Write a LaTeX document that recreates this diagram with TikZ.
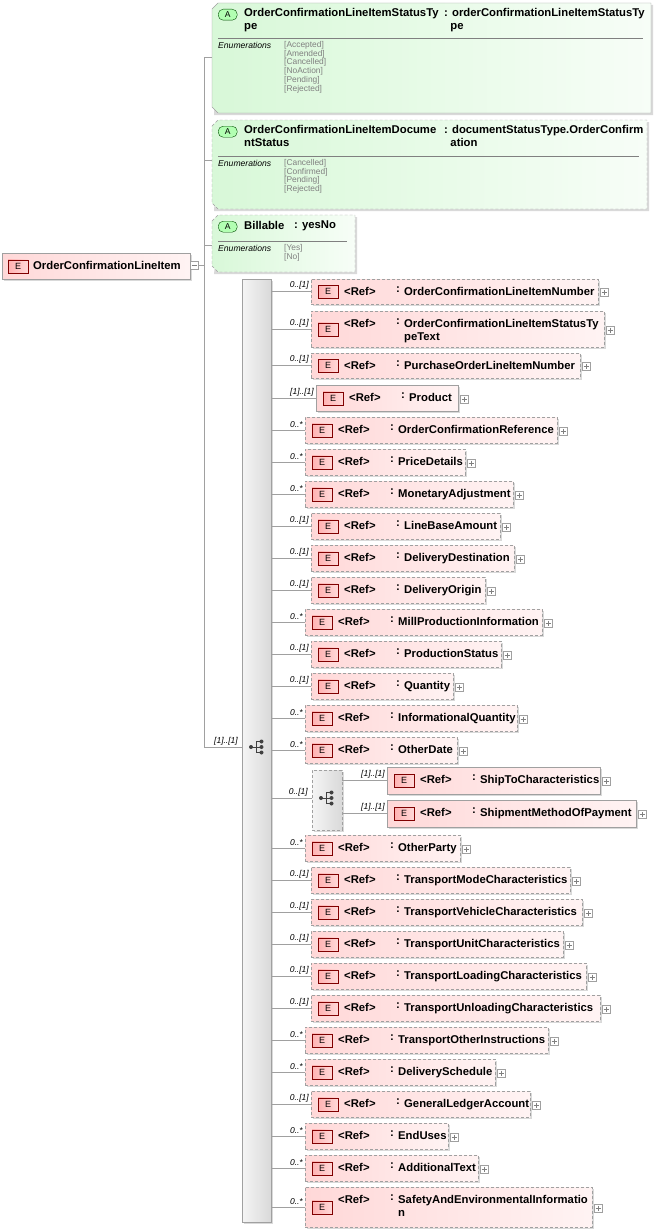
\documentclass[tikz,border=0pt]{standalone}
\usepackage{fontspec}
\setmainfont{Liberation Sans}
\usetikzlibrary{calc}
\definecolor{epink}{HTML}{FFD8D8}
\definecolor{agreen}{HTML}{D8F8D8}
\definecolor{lgray}{HTML}{A0A0A0}
\tikzset{
  ebox/.style={draw=lgray, left color=epink, right color=epink!30, shading angle=90, inner sep=0pt},
  dsh/.style={dash pattern=on 3pt off 2pt},
  sol/.style={},
  eicon/.style={draw=red!50!black, left color=red!30, right color=red!15, minimum width=20pt, minimum height=13pt, inner sep=0pt, font=\fontsize{9}{9}\selectfont, anchor=north west},
  bt/.style={font=\bfseries\fontsize{11.3}{13}\selectfont, inner sep=0pt, anchor=north west, align=left},
  card/.style={font=\itshape\fontsize{8.5}{8.5}\selectfont, inner sep=0pt, anchor=south east},
  conn/.style={draw=lgray, line width=0.6pt},
  plusb/.style={draw=lgray, fill=white, minimum size=8pt, inner sep=0pt},
  enumt/.style={font=\fontsize{8.4}{8.8}\selectfont, text=gray, inner sep=0pt, anchor=north west, align=left},
  enuml/.style={font=\itshape\fontsize{8.6}{8}\selectfont, inner sep=0pt, anchor=north west},
}
\newcommand\plusat[1]{\node[plusb] at (#1) {}; \draw[gray] ($(#1)+(-2.5,0)$) -- ($(#1)+(2.5,0)$) ($(#1)+(0,-2.5)$) -- ($(#1)+(0,2.5)$);}
% #1 id, #2 x1, #3 y1, #4 x2, #5 y2, #6 card, #7 name, #8 style, #9 connector start x
\newcommand\El[9]{%
  \fill[gray!30] ({#2+2},{#3+2}) rectangle ({#4+2},{#5+2});
  \node[ebox,#8, minimum width={#4-#2}, minimum height={#5-#3}, anchor=north west] (#1) at (#2,#3) {};
  \node[eicon] (#1i) at ({#2+7},{#3+(#5-#3)/2-6.5}) {E};
  \node[bt] (#1r) at ({#2+33},{#3+8}) {<Ref>};
  \node[bt] (#1c) at ({#2+85},{#3+8}) {:};
  \node[bt] (#1n) at ({#2+93},{#3+8}) {#7};
  \coordinate (#1p) at ({#4+6},{#3+(#5-#3)/2+1});
  \plusat{#1p}
  \coordinate (#1s) at ({#9},{#3+(#5-#3)/2});
  \draw[conn] (#1s) -- (#1.west |- #1s);
  \node[card] at ($(#1.west |- #1s)+(-2,-2)$) {#6};
}
\begin{document}
\begin{tikzpicture}[x=1pt,y=-1pt]
\useasboundingbox (0,0) rectangle (655,1231);
% root
\fill[gray!30] (4,255) rectangle (192,281);
\node[ebox, minimum width=188, minimum height=26, anchor=north west] (root) at (2,253) {};
\node[eicon] (rooti) at (8,259.5) {E};
\node[bt] (rootn) at (33,261) {OrderConfirmationLineItem};
\node[plusb] (rootm) at (194,265) {}; \draw[gray] (191.5,265) -- (196.5,265);
\coordinate (trunk) at (204,265);
\draw[conn] (rootm.east) -- (trunk);
\draw[conn] (204,57) -- (204,747);
% attributes
\newcommand\Abox[6]{% x1 y1 x2 y2 style name
  \fill[gray!30] ({#1+8},{#2+2}) -- ({#3+2},{#2+2}) -- ({#3+2},{#4+2}) -- ({#1+2},{#4+2}) -- cycle;
  \path[draw=lgray, left color=agreen, right color=agreen!20, shading angle=90, #5] (#1,{#2+6}) -- ({#1+6},#2) -- (#3,#2) -- (#3,#4) -- ({#1+6},#4) -- (#1,{#4-6}) -- cycle;
}
\Abox{212}{3}{651}{113}{}{}
\Abox{212}{120}{647}{209}{dsh}{}
\Abox{212}{215}{355}{272}{dsh}{}
\newcommand\Aicon[2]{\node[draw=green!30!black, fill=green!30, rounded corners=5pt, minimum width=19pt, minimum height=11pt, inner sep=0pt, font=\fontsize{8.5}{8.5}\selectfont, anchor=north west] (#1) at (#2) {A};}
\Aicon{a1i}{218,9}
\node[bt] (a1n) at (244,8) {OrderConfirmationLineItemStatusTy\\pe};
\node[bt] (a1t) at (444,8) {: orderConfirmationLineItemStatusTy\\\ \ pe};
\draw[gray] (218,38) -- (643,38);
\node[enuml] at (218,42) {Enumerations};
\node[enumt] at (284,41) {{[Accepted]}\\{[Amended]}\\{[Cancelled]}\\{[NoAction]}\\{[Pending]}\\{[Rejected]}};
\Aicon{a2i}{218,126}
\node[bt] (a2n) at (244,125) {OrderConfirmationLineItemDocume\\ntStatus};
\node[bt] (a2t) at (444,125) {: documentStatusType.OrderConfirm\\\ \ ation};
\draw[gray] (218,156) -- (639,156);
\node[enuml] at (218,160) {Enumerations};
\node[enumt] at (284,159) {{[Cancelled]}\\{[Confirmed]}\\{[Pending]}\\{[Rejected]}};
\Aicon{a3i}{218,221}
\node[bt] (a3n) at (244,221) {Billable};
\node[bt] (a3t) at (294,221) {: yesNo};
\draw[gray] (218,241) -- (347,241);
\node[enuml] at (218,245) {Enumerations};
\node[enumt] at (284,244) {{[Yes]}\\{[No]}};
\draw[conn] (204,57) -- (212,57);
\draw[conn] (204,160) -- (212,160);
\draw[conn] (204,245) -- (212,245);
% sequence
\fill[gray!30] (244,281) rectangle (273,1224);
\node[draw=lgray, left color=gray!8, right color=gray!30, shading angle=90, minimum width=29, minimum height=943, anchor=north west, inner sep=0pt] (seq) at (242,279) {};
\coordinate (seqin) at (242,747);
\draw[conn] (204,747) -- (seqin);
\node[card] at (238,745) {[1]..[1]};
\newcommand\seqicon[1]{%
  \fill[black!75] (#1) circle (2);
  \draw[black!75, line width=0.9pt] (#1) -- ++(5,0) ($(#1)+(5,-5.5)$) -- ($(#1)+(5,5.5)$) ($(#1)+(5,-5.5)$) -- ++(5,0) ($(#1)+(5,0)$) -- ++(5,0) ($(#1)+(5,5.5)$) -- ++(5,0);
  \fill[black!75] ($(#1)+(10.5,-5.5)$) circle (2) ($(#1)+(10.5,0)$) circle (2) ($(#1)+(10.5,5.5)$) circle (2);}
\seqicon{251,747}
\El{e1}{311}{279}{598}{304}{0..[1]}{OrderConfirmationLineItemNumber}{dsh}{271}
\El{e2}{311}{311}{604}{347}{0..[1]}{OrderConfirmationLineItemStatusTy\\peText}{dsh}{271}
\El{e3}{311}{353}{580}{378}{0..[1]}{PurchaseOrderLineItemNumber}{dsh}{271}
\El{e4}{316}{385}{458}{411}{[1]..[1]}{Product}{sol}{271}
\El{e5}{305}{417}{557}{443}{0..*}{OrderConfirmationReference}{dsh}{271}
\El{e6}{305}{449}{465}{475}{0..*}{PriceDetails}{dsh}{271}
\El{e7}{305}{481}{513}{507}{0..*}{MonetaryAdjustment}{dsh}{271}
\El{e8}{311}{513}{500}{539}{0..[1]}{LineBaseAmount}{dsh}{271}
\El{e9}{311}{545}{514}{571}{0..[1]}{DeliveryDestination}{dsh}{271}
\El{e10}{311}{577}{485}{603}{0..[1]}{DeliveryOrigin}{dsh}{271}
\El{e11}{305}{609}{542}{635}{0..*}{MillProductionInformation}{dsh}{271}
\El{e12}{311}{641}{501}{667}{0..[1]}{ProductionStatus}{dsh}{271}
\El{e13}{311}{673}{453}{699}{0..[1]}{Quantity}{dsh}{271}
\El{e14}{305}{705}{517}{731}{0..*}{InformationalQuantity}{dsh}{271}
\El{e15}{305}{737}{457}{763}{0..*}{OtherDate}{dsh}{271}
% choice
\fill[gray!30] (314,772) rectangle (344,832);
\node[draw=lgray, dsh, left color=gray!8, right color=gray!30, shading angle=90, minimum width=30, minimum height=60, anchor=north west, inner sep=0pt] (ch) at (312,770) {};
\seqicon{321,798}
\draw[conn] (271,798) -- (ch.west |- 0,798);
\node[card] at (308,796) {0..[1]};
\El{c1}{387}{767}{600}{794}{[1]..[1]}{ShipToCharacteristics}{sol}{342}
\El{c2}{387}{800}{636}{827}{[1]..[1]}{ShipmentMethodOfPayment}{sol}{342}
\El{e17}{305}{835}{460}{861}{0..*}{OtherParty}{dsh}{271}
\El{e18}{311}{867}{570}{893}{0..[1]}{TransportModeCharacteristics}{dsh}{271}
\El{e19}{311}{899}{582}{925}{0..[1]}{TransportVehicleCharacteristics}{dsh}{271}
\El{e20}{311}{931}{563}{957}{0..[1]}{TransportUnitCharacteristics}{dsh}{271}
\El{e21}{311}{963}{586}{989}{0..[1]}{TransportLoadingCharacteristics}{dsh}{271}
\El{e22}{311}{995}{600}{1021}{0..[1]}{TransportUnloadingCharacteristics}{dsh}{271}
\El{e23}{305}{1027}{548}{1053}{0..*}{TransportOtherInstructions}{dsh}{271}
\El{e24}{305}{1059}{495}{1085}{0..*}{DeliverySchedule}{dsh}{271}
\El{e25}{311}{1091}{530}{1117}{0..[1]}{GeneralLedgerAccount}{dsh}{271}
\El{e26}{305}{1123}{448}{1149}{0..*}{EndUses}{dsh}{271}
\El{e27}{305}{1155}{478}{1181}{0..*}{AdditionalText}{dsh}{271}
\El{e28}{305}{1187}{592}{1227}{0..*}{SafetyAndEnvironmentalInformatio\\n}{dsh}{271}
\end{tikzpicture}
\end{document}
